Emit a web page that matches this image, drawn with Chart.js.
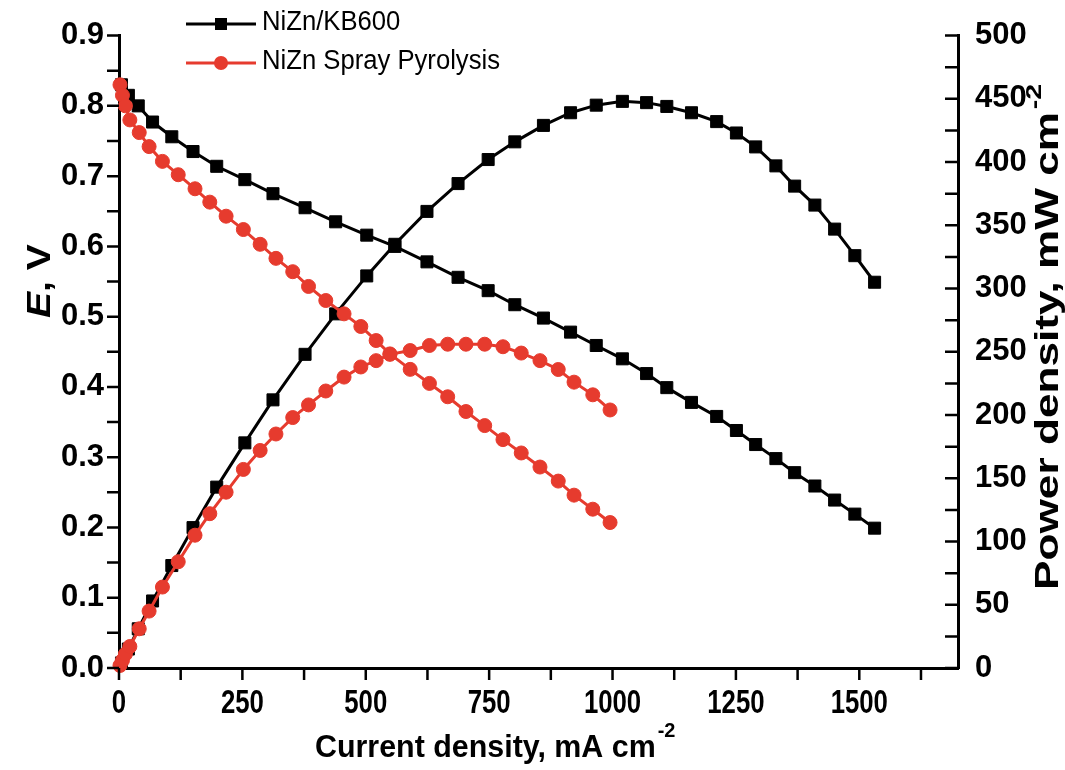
<!DOCTYPE html>
<html>
<head>
<meta charset="utf-8">
<script src="https://cdn.jsdelivr.net/npm/chart.js@4.4.0/dist/chart.umd.min.js"></script>
<style>
  html, body { margin: 0; padding: 0; background: #fff; }
</style>
</head>
<body>
<canvas id="grafico" width="1065" height="770"></canvas>
<script>
    // NiZn/KB600 (quadrados pretos)
    const correnteKB = [5, 19, 39, 68, 107, 150, 198, 255, 312, 377, 439, 502, 559, 624, 687, 748, 802, 860, 915, 967, 1020, 1069, 1110, 1160, 1211, 1251, 1290, 1331, 1369, 1410, 1450, 1491, 1531];
    const tensaoKB = [0.83, 0.815, 0.80, 0.777, 0.756, 0.735, 0.714, 0.695, 0.675, 0.655, 0.635, 0.616, 0.600, 0.578, 0.556, 0.537, 0.517, 0.498, 0.478, 0.459, 0.440, 0.419, 0.399, 0.378, 0.358, 0.338, 0.318, 0.298, 0.278, 0.259, 0.239, 0.219, 0.199];
    const potenciaKB = [4, 15, 31, 53, 81, 111, 143, 178, 212, 248, 280, 310, 335, 361, 383, 402, 416, 429, 439, 445, 448, 447, 444, 439, 432, 423, 412, 397, 381, 366, 347, 326, 305];

    // NiZn Spray Pyrolysis (circulos vermelhos)
    const correnteSP = [2, 7, 13, 22, 41, 61, 88, 120, 154, 184, 217, 252, 286, 318, 352, 384, 419, 456, 490, 521, 549, 590, 629, 666, 703, 741, 778, 815, 853, 890, 922, 960, 995];
    const tensaoSP = [0.83, 0.815, 0.80, 0.78, 0.762, 0.742, 0.721, 0.702, 0.682, 0.663, 0.643, 0.624, 0.603, 0.583, 0.564, 0.543, 0.523, 0.504, 0.486, 0.466, 0.447, 0.425, 0.405, 0.386, 0.365, 0.345, 0.325, 0.306, 0.286, 0.266, 0.246, 0.226, 0.207];
    const potenciaSP = [2, 6, 11, 17, 31, 45, 64, 84, 105, 122, 139, 157, 172, 185, 198, 208, 219, 230, 238, 243, 248, 251, 255, 256, 256, 256, 254, 249, 243, 236, 226, 216, 204];

    const nomes = ['NiZn/KB600', 'NiZn Spray Pyrolysis'];
    const tituloX = 'Current density, mA cm';
    const tituloP = 'Power density, mW cm';

    const PRETO = '#000000';
    const VERMELHO = '#e63b2e';
    const FONTE = '"Liberation Sans", Arial, sans-serif';

    function pontos(xs, ys) {
      return xs.map((x, i) => ({ x: x, y: ys[i] }));
    }

    function serie(label, xs, ys, eixo, cor, estilo, raio, ordem) {
      return {
        label: label,
        data: pontos(xs, ys),
        yAxisID: eixo,
        borderColor: cor,
        backgroundColor: cor,
        borderWidth: 3,
        pointStyle: estilo,
        pointRadius: raio,
        pointBackgroundColor: cor,
        pointBorderColor: cor,
        pointBorderWidth: 1,
        tension: 0,
        clip: false,
        order: ordem
      };
    }

    // texto com escala horizontal (a figura original esta comprimida)
    function texto(c, str, x, y, font, sx, align) {
      c.save();
      c.translate(x, y);
      c.scale(sx, 1);
      c.font = font;
      c.textAlign = align || 'left';
      c.fillText(str, 0, 0);
      c.restore();
    }

    const eixosPlugin = {
      id: 'eixos',
      afterDraw(chart) {
        const c = chart.ctx;
        const sx = chart.scales.x, se = chart.scales.yE, sp = chart.scales.yP;
        c.save();
        c.strokeStyle = PRETO;
        c.fillStyle = PRETO;
        c.lineWidth = 2.5;
        c.beginPath();
        sx.ticks.forEach(t => {
          const px = sx.getPixelForValue(t.value);
          c.moveTo(px, sx.top); c.lineTo(px, sx.top + 12);
        });
        se.ticks.forEach(t => {
          const py = se.getPixelForValue(t.value);
          c.moveTo(se.right - 12, py); c.lineTo(se.right, py);
        });
        sp.ticks.forEach(t => {
          const py = sp.getPixelForValue(t.value);
          c.moveTo(sp.left - 13, py); c.lineTo(sp.left, py);
        });
        c.stroke();

        // rotulos do eixo x
        c.textBaseline = 'alphabetic';
        sx.ticks.forEach(t => {
          if (t.value % 250 !== 0) return;
          texto(c, String(t.value), sx.getPixelForValue(t.value), 713, 'bold 33px ' + FONTE, 0.78, 'center');
        });

        // titulo x
        texto(c, tituloX, 315, 757, 'bold 32px ' + FONTE, 0.95);
        c.font = 'bold 32px ' + FONTE;
        const wx = c.measureText(tituloX).width * 0.95;
        texto(c, '-2', 315 + wx + 2, 737, 'bold 21px ' + FONTE, 0.95);

        // titulo E, V
        c.save();
        c.translate(50, 318);
        c.rotate(-Math.PI / 2);
        c.scale(1.15, 1);
        c.font = 'italic bold 34px ' + FONTE;
        c.fillText('E', 0, 0);
        const we = c.measureText('E').width;
        c.font = 'bold 34px ' + FONTE;
        c.fillText(', V', we, 0);
        c.restore();

        // titulo potencia
        c.save();
        c.translate(1058, 590);
        c.rotate(-Math.PI / 2);
        c.scale(1.3, 1);
        c.font = 'bold 34px ' + FONTE;
        c.fillText(tituloP, 0, 0);
        const wp = c.measureText(tituloP).width;
        c.font = 'bold 22px ' + FONTE;
        c.fillText('-2', wp + 2, -17);
        c.restore();

        // legenda
        c.lineWidth = 3;
        c.strokeStyle = PRETO;
        c.beginPath(); c.moveTo(186, 24); c.lineTo(256, 24); c.stroke();
        c.fillRect(215, 18, 12, 12);
        c.strokeStyle = VERMELHO;
        c.fillStyle = VERMELHO;
        c.beginPath(); c.moveTo(186, 63); c.lineTo(256, 63); c.stroke();
        c.beginPath(); c.arc(221, 63, 7, 0, Math.PI * 2); c.fill();
        c.fillStyle = PRETO;
        c.textBaseline = 'middle';
        texto(c, nomes[0], 262, 23, '27px ' + FONTE, 0.95);
        texto(c, nomes[1], 262, 62, '27px ' + FONTE, 0.95);
        c.restore();
      }
    };

    const fonteTick = { family: FONTE, size: 31, weight: 'bold' };

    const ctx = document.getElementById('grafico').getContext('2d');
    const chart = new Chart(ctx, {
      type: 'line',
      data: {
        datasets: [
          serie(nomes[0], correnteKB, tensaoKB, 'yE', PRETO, 'rect', 8.5, 2),
          serie(nomes[0], correnteKB, potenciaKB, 'yP', PRETO, 'rect', 8.5, 2),
          serie(nomes[1], correnteSP, tensaoSP, 'yE', VERMELHO, 'circle', 7, 1),
          serie(nomes[1], correnteSP, potenciaSP, 'yP', VERMELHO, 'circle', 7, 1)
        ]
      },
      options: {
        responsive: false,
        animation: false,
        layout: { padding: { top: 32, left: 0, right: 0, bottom: 0 } },
        plugins: { legend: { display: false }, tooltip: { enabled: false } },
        scales: {
          x: {
            type: 'linear', min: 0, max: 1700,
            afterFit: s => { s.height = 102; },
            ticks: { stepSize: 125, includeBounds: false, display: false },
            grid: { display: false, drawTicks: false },
            border: { color: PRETO, width: 3 }
          },
          yE: {
            type: 'linear', position: 'left', min: 0, max: 0.9,
            afterFit: s => { s.width = 119; },
            ticks: {
              stepSize: 0.05, autoSkip: false, padding: 15, color: PRETO, font: fonteTick,
              callback: v => Math.abs(v * 10 - Math.round(v * 10)) < 1e-6 ? v.toFixed(1) : ''
            },
            grid: { display: false, drawTicks: false },
            border: { color: PRETO, width: 3 }
          },
          yP: {
            type: 'linear', position: 'right', min: 0, max: 500,
            afterFit: s => { s.width = 107; },
            ticks: {
              stepSize: 25, autoSkip: false, padding: 17, color: PRETO, font: fonteTick,
              callback: v => v % 50 === 0 ? String(v) : ''
            },
            grid: { display: false, drawTicks: false },
            border: { color: PRETO, width: 3 }
          }
        }
      },
      plugins: [eixosPlugin]
    });
</script>
</body>
</html>
